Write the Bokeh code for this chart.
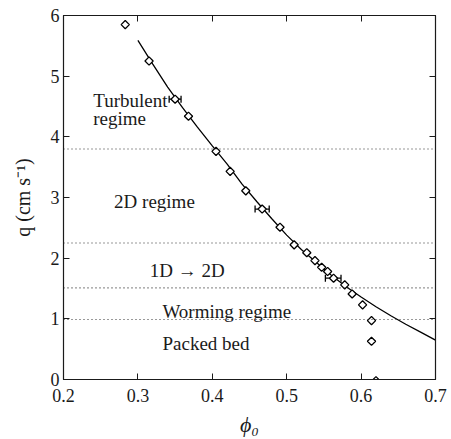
from bokeh.plotting import figure
from bokeh.models import (LinearAxis, FixedTicker, Label, Whisker, TeeHead,
                          ColumnDataSource, Span)
from bokeh.embed import file_html
from bokeh.resources import INLINE
import math

# ---- data ----
phi = [0.283, 0.315, 0.350, 0.368, 0.405, 0.424, 0.445, 0.467, 0.491, 0.510,
       0.527, 0.538, 0.547, 0.555, 0.563, 0.578, 0.588, 0.602, 0.614, 0.614, 0.620]
q = [5.85, 5.25, 4.62, 4.34, 3.76, 3.43, 3.11, 2.81, 2.51, 2.22,
     2.09, 1.96, 1.85, 1.78, 1.67, 1.56, 1.41, 1.23, 0.97, 0.63, -0.02]

err_phi = [0.350, 0.467, 0.5625]
err_q = [4.62, 2.81, 1.67]
err_half = [0.008, 0.0095, 0.0105]

fit_phi = [0.30, 0.32, 0.34, 0.36, 0.38, 0.40, 0.42, 0.44, 0.46, 0.48, 0.50,
           0.52, 0.54, 0.56, 0.58, 0.60, 0.62, 0.64, 0.66, 0.68, 0.70]
fit_q = [5.59, 5.20, 4.82, 4.48, 4.16, 3.85, 3.55, 3.22, 2.93, 2.65, 2.38,
         2.14, 1.93, 1.72, 1.53, 1.36, 1.20, 1.05, 0.91, 0.78, 0.65]

regime_bounds = [3.80, 2.25, 1.51, 0.99]

region_texts = ["Turbulent", "regime", "2D regime", "1D \u2192 2D", "Worming regime", "Packed bed"]
region_x = [0.240, 0.240, 0.268, 0.316, 0.333, 0.333]
region_y = [4.595, 4.307, 2.93, 1.803, 1.12, 0.59]

x_ticks = [0.2, 0.3, 0.4, 0.5, 0.6, 0.7]
y_ticks = [0, 1, 2, 3, 4, 5, 6]

FONT = "Liberation Serif"
INK = "#1a1a1a"

p = figure(width=451, height=439, x_range=(0.2, 0.7), y_range=(0, 6),
           output_backend="svg", toolbar_location=None,
           min_border_left=63, min_border_right=16, min_border_top=15,
           min_border_bottom=58)
p.xgrid.visible = False
p.ygrid.visible = False
p.outline_line_color = INK
p.outline_line_width = 1.2
p.background_fill_color = "white"
p.border_fill_color = "white"

for ax, t in ((p.xaxis[0], x_ticks), (p.yaxis[0], y_ticks)):
    ax.ticker = FixedTicker(ticks=t)
    ax.major_tick_in = 6
    ax.major_tick_out = 0
    ax.minor_tick_line_color = None
    ax.axis_line_color = INK
    ax.major_tick_line_color = INK
    ax.major_label_text_font = FONT
    ax.major_label_text_font_size = "18px"
    ax.major_label_text_color = INK
    ax.axis_label_text_font = FONT
    ax.axis_label_text_color = INK

p.xaxis.major_label_standoff = 9
p.yaxis.major_label_standoff = 4
p.xaxis.axis_label = "\u03d5\u2080"
p.xaxis.axis_label_text_font_size = "22px"
p.xaxis.axis_label_text_font_style = "italic"
p.xaxis.axis_label_standoff = 7

p.yaxis.axis_label = "q (cm s\u207b\u00b9)"
p.yaxis.axis_label_text_font_size = "20px"
p.yaxis.axis_label_text_font_style = "normal"
p.yaxis.axis_label_standoff = 14

for loc, t in (("above", x_ticks), ("right", y_ticks)):
    ax = LinearAxis(ticker=FixedTicker(ticks=t), major_tick_in=6, major_tick_out=0,
                    minor_tick_line_color=None, major_label_text_font_size="1px",
                    major_label_text_color=None,
                    major_label_standoff=0, axis_line_color=INK,
                    major_tick_line_color=INK)
    p.add_layout(ax, loc)

# regime boundaries
for b in regime_bounds:
    p.add_layout(Span(location=b, dimension="width", line_color="#333333",
                      line_width=1.1, line_dash="1 3"))

# fitted curve
p.line(fit_phi, fit_q, line_color="black", line_width=1.3)

# error bars
esrc = ColumnDataSource(dict(y=err_q, lo=[a - e for a, e in zip(err_phi, err_half)],
                             hi=[a + e for a, e in zip(err_phi, err_half)]))
p.add_layout(Whisker(source=esrc, base="y", lower="lo", upper="hi", dimension="width",
                     line_color="black", line_width=1.3,
                     upper_head=TeeHead(size=7, line_color="black", line_width=1.3),
                     lower_head=TeeHead(size=7, line_color="black", line_width=1.3)))

# data markers
p.scatter(phi, q, marker="square", angle=math.pi / 4, size=5.8,
          fill_color="white", line_color="black", line_width=1.3)

# region labels
for t, x, y in zip(region_texts, region_x, region_y):
    p.add_layout(Label(x=x, y=y, text=t, text_font=FONT, text_font_size="19px",
                       text_color=INK, text_baseline="alphabetic", text_align="left"))

open("out.html", "w").write(file_html(p, INLINE))
